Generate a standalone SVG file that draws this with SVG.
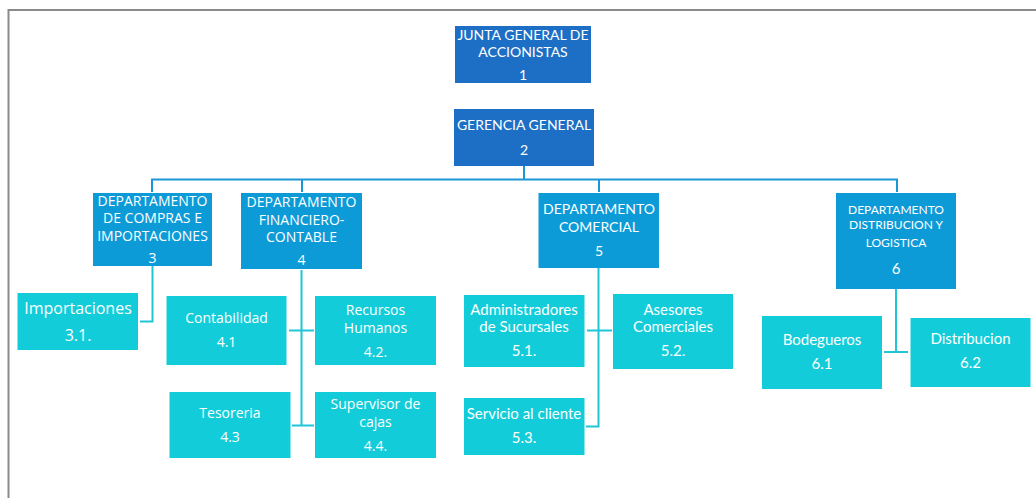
<svg xmlns="http://www.w3.org/2000/svg" width="1036" height="498" viewBox="0 0 1036 498">
<style>
.bg{fill:#ffffff}
.frame{fill:none;stroke:#8a8a8a;stroke-width:2}
.top{fill:#1d6fc5}
.dept{fill:#0d9bd8}
.leaf{fill:#12cdd9}
.bus{fill:none;stroke:#1b98d4;stroke-width:2}
.sub{fill:none;stroke:#1fc6d8;stroke-width:2}
text{fill:#ffffff;text-anchor:middle}
.c{font-family:Lato,"Liberation Sans",sans-serif}
.o{font-family:"Open Sans","Liberation Sans",sans-serif}
</style>
<rect class="bg" x="0" y="0" width="1036" height="498"/>
<path class="frame" d="M8.5,498 V10 H1036"/>
<g id="connectors">
<path class="bus" d="M524,166 V179.5 M152,192 V179.5 H897 V192 M302,179.5 V192 M599,179.5 V192"/>
<path class="sub" d="M152.5,266 V321.5 H140"/>
<path class="sub" d="M301.5,270 V425.5 M289,330.5 H314 M292,425.5 H314"/>
<path class="sub" d="M598.5,268 V426.5 H586 M587,330.5 H612"/>
<path class="sub" d="M896,289 V352 M884,352 H908"/>
</g>
<g id="n1">
<rect class="top" x="455" y="26" width="136" height="57"/>
<text class="c" font-size="14" x="523" y="40">JUNTA GENERAL DE</text>
<text class="c" font-size="14" x="523" y="57">ACCIONISTAS</text>
<text class="c" font-size="14" x="523" y="80">1</text>
</g>
<g id="n2">
<rect class="top" x="454" y="109" width="140" height="57"/>
<text class="c" font-size="14" x="524" y="130">GERENCIA GENERAL</text>
<text class="c" font-size="14" x="524" y="155">2</text>
</g>
<g id="n3">
<rect class="dept" x="93" y="193" width="119" height="73"/>
<text class="o" font-size="14" x="152.5" y="206">DEPARTAMENTO</text>
<text class="o" font-size="14" x="152.5" y="223">DE COMPRAS E</text>
<text class="o" font-size="14" x="152.5" y="240.5">IMPORTACIONES</text>
<text class="o" font-size="14" x="152.5" y="263">3</text>
</g>
<g id="n4">
<rect class="dept" x="241" y="193" width="121" height="76"/>
<text class="o" font-size="14" x="301.5" y="207">DEPARTAMENTO</text>
<text class="o" font-size="14" x="301.5" y="224.5">FINANCIERO-</text>
<text class="o" font-size="14" x="301.5" y="242">CONTABLE</text>
<text class="o" font-size="14" x="301.5" y="265">4</text>
</g>
<g id="n5">
<rect class="dept" x="538.5" y="193" width="120.5" height="75"/>
<text class="c" font-size="14" x="599" y="214">DEPARTAMENTO</text>
<text class="c" font-size="14" x="599" y="231.5">COMERCIAL</text>
<text class="c" font-size="14" x="599" y="255.5">5</text>
</g>
<g id="n6">
<rect class="dept" x="836" y="193" width="120" height="96"/>
<text class="c" font-size="12" x="896" y="214">DEPARTAMENTO</text>
<text class="c" font-size="12" x="896" y="228.5">DISTRIBUCION Y</text>
<text class="c" font-size="12" x="896" y="247">LOGISTICA</text>
<text class="c" font-size="15" x="896" y="274">6</text>
</g>
<g id="n31">
<rect class="leaf" x="17.5" y="293" width="120.5" height="57"/>
<text class="o" font-size="16" x="78" y="313.5">Importaciones</text>
<text class="o" font-size="16" x="78" y="340.5">3.1.</text>
</g>
<g id="n41">
<rect class="leaf" x="166.5" y="296" width="120" height="69"/>
<text class="o" font-size="14" x="226.5" y="322.5">Contabilidad</text>
<text class="o" font-size="14" x="226.5" y="347">4.1</text>
</g>
<g id="n42">
<rect class="leaf" x="315" y="296" width="121" height="69"/>
<text class="o" font-size="14" x="375.5" y="315">Recursos</text>
<text class="o" font-size="14" x="375.5" y="332.5">Humanos</text>
<text class="o" font-size="14" x="375.5" y="356.5">4.2.</text>
</g>
<g id="n43">
<rect class="leaf" x="169.5" y="392" width="121" height="66"/>
<text class="o" font-size="14" x="230" y="418">Tesoreria</text>
<text class="o" font-size="14" x="230" y="442">4.3</text>
</g>
<g id="n44">
<rect class="leaf" x="315" y="392" width="121" height="66"/>
<text class="o" font-size="14" x="375.5" y="409">Supervisor de</text>
<text class="o" font-size="14" x="375.5" y="427">cajas</text>
<text class="o" font-size="14" x="375.5" y="451">4.4.</text>
</g>
<g id="n51">
<rect class="leaf" x="464" y="295" width="120.5" height="72"/>
<text class="c" font-size="15" x="524" y="315">Administradores</text>
<text class="c" font-size="15" x="524" y="332">de Sucursales</text>
<text class="c" font-size="15" x="524" y="356">5.1.</text>
</g>
<g id="n52">
<rect class="leaf" x="613" y="294" width="120" height="75"/>
<text class="c" font-size="15" x="673" y="315">Asesores</text>
<text class="c" font-size="15" x="673" y="332">Comerciales</text>
<text class="c" font-size="15" x="673" y="356">5.2.</text>
</g>
<g id="n53">
<rect class="leaf" x="464" y="398" width="120.5" height="57"/>
<text class="c" font-size="15" x="524" y="419">Servicio al cliente</text>
<text class="c" font-size="15" x="524" y="443">5.3.</text>
</g>
<g id="n61">
<rect class="leaf" x="762" y="316" width="120" height="73"/>
<text class="c" font-size="15" x="822" y="345">Bodegueros</text>
<text class="c" font-size="15" x="822" y="369">6.1</text>
</g>
<g id="n62">
<rect class="leaf" x="910.5" y="318" width="120" height="69"/>
<text class="c" font-size="15" x="970.5" y="344">Distribucion</text>
<text class="c" font-size="15" x="970.5" y="368">6.2</text>
</g>
</svg>
